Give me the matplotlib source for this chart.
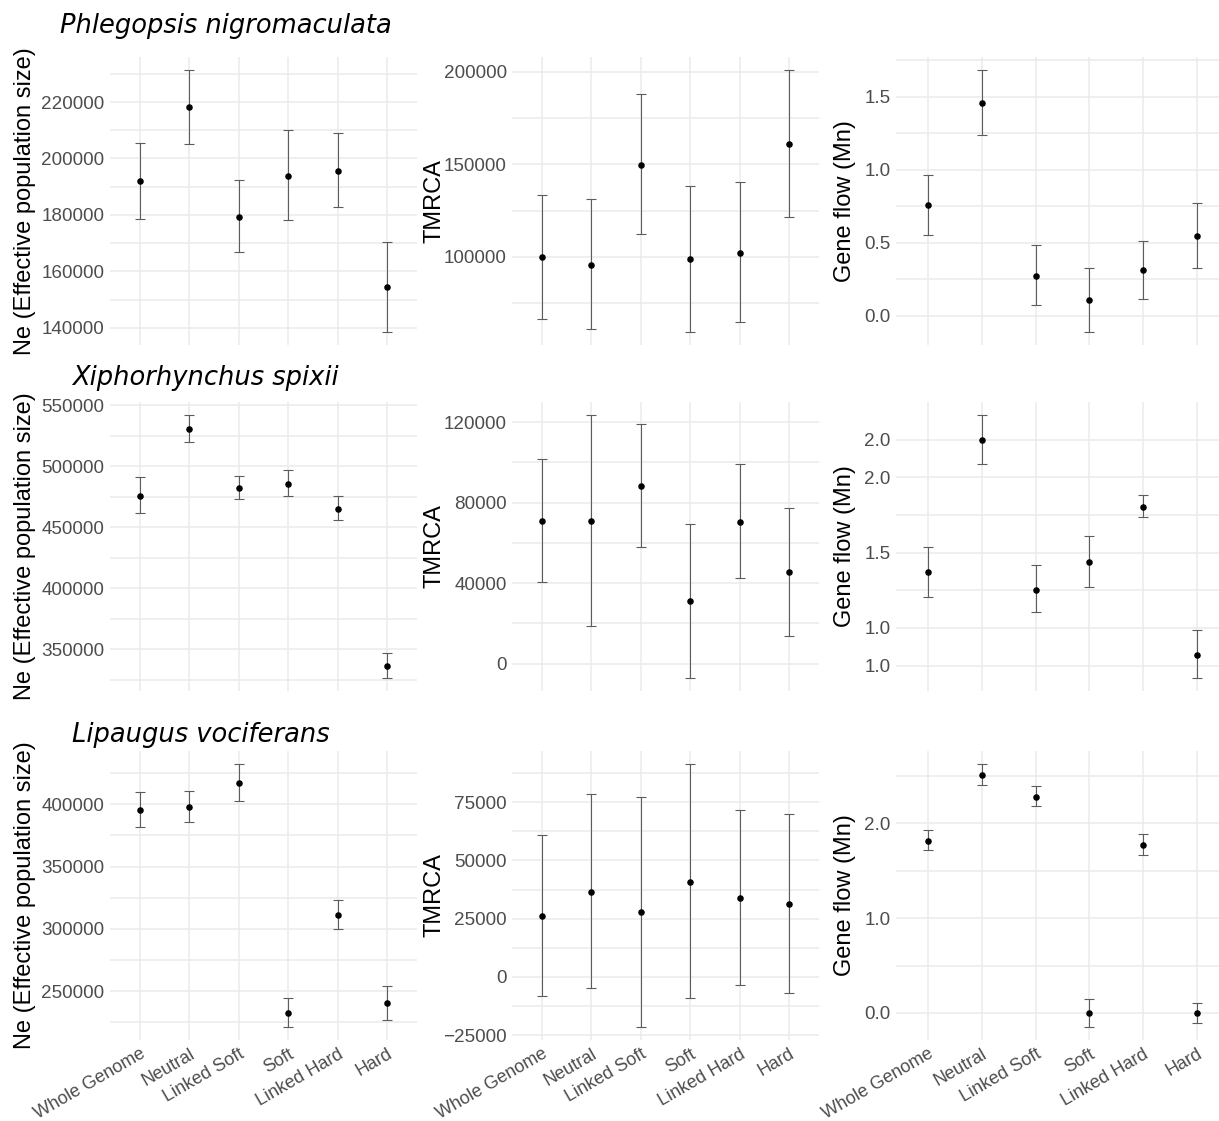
import matplotlib

matplotlib.use("Agg")
import matplotlib.pyplot as plt
import numpy as np
from matplotlib.transforms import ScaledTranslation

plt.rcParams["font.family"] = ["Liberation Sans", "DejaVu Sans"]

categories = ["Whole Genome", "Neutral", "Linked Soft", "Soft", "Linked Hard", "Hard"]
species = ["Phlegopsis nigromaculata", "Xiphorhynchus spixii", "Lipaugus vociferans"]
metric_labels = ["Ne (Effective population size)", "TMRCA", "Gene flow (Mn)"]

# Phlegopsis nigromaculata
ne_phl = [192000, 218200, 179400, 193900, 195600, 154400]
ne_phl_low = [178600, 205100, 166800, 178100, 182700, 138600]
ne_phl_high = [205600, 231300, 192400, 210100, 208900, 170400]
tmrca_phl = [99800, 95900, 149600, 98900, 102300, 161100]
tmrca_phl_low = [66700, 61300, 112200, 59500, 64900, 121700]
tmrca_phl_high = [133700, 131200, 187800, 138500, 140300, 200900]
gf_phl = [0.757, 1.459, 0.275, 0.109, 0.314, 0.548]
gf_phl_low = [0.552, 1.241, 0.075, -0.109, 0.116, 0.330]
gf_phl_high = [0.966, 1.682, 0.486, 0.330, 0.516, 0.773]

# Xiphorhynchus spixii
ne_xip = [475700, 530400, 482300, 485500, 465300, 336700]
ne_xip_low = [461300, 520200, 472700, 475700, 456100, 326600]
ne_xip_high = [491300, 541800, 492100, 496500, 475700, 347300]
tmrca_xip = [71000, 70900, 88300, 31000, 70400, 45300]
tmrca_xip_low = [40500, 18900, 58200, -7100, 42300, 13600]
tmrca_xip_high = [101700, 123500, 119200, 69400, 99300, 77300]
gf_xip = [1.369, 2.246, 1.254, 1.438, 1.803, 0.823]
gf_xip_low = [1.206, 2.086, 1.102, 1.270, 1.737, 0.668]
gf_xip_high = [1.540, 2.412, 1.416, 1.611, 1.881, 0.989]

# Lipaugus vociferans
ne_lip = [395700, 397900, 416800, 232600, 311500, 240400]
ne_lip_low = [381800, 385800, 402700, 221400, 300000, 227000]
ne_lip_high = [409900, 410200, 432100, 244400, 323500, 254300]
tmrca_lip = [26000, 36300, 27700, 40900, 33700, 31300]
tmrca_lip_low = [-8300, -4900, -21400, -9000, -3600, -6900]
tmrca_lip_high = [60900, 78300, 77400, 91300, 71600, 69900]
gf_lip = [1.820, 2.511, 2.285, 0.0, 1.768, 0.0]
gf_lip_low = [1.722, 2.405, 2.187, -0.148, 1.665, -0.109]
gf_lip_high = [1.930, 2.627, 2.394, 0.151, 1.884, 0.109]

# y breaks as drawn in the original (gene flow of X. spixii has odd rounded labels)
ne_phl_ticks = [140000, 160000, 180000, 200000, 220000]
tmrca_phl_ticks = [100000, 150000, 200000]
gf_phl_ticks = [0.0, 0.5, 1.0, 1.5]
ne_xip_ticks = [350000, 400000, 450000, 500000, 550000]
tmrca_xip_ticks = [0, 40000, 80000, 120000]
gf_xip_ticks = [0.75, 1.0, 1.5, 2.0, 2.25]
gf_xip_tick_labels = ["1.0", "1.0", "1.5", "2.0", "2.0"]
gf_xip_minor = [1.25, 1.75]
ne_lip_ticks = [250000, 300000, 350000, 400000]
tmrca_lip_ticks = [-25000, 0, 25000, 50000, 75000]
gf_lip_ticks = [0.0, 1.0, 2.0]

rows = [
    [(ne_phl, ne_phl_low, ne_phl_high, ne_phl_ticks),
     (tmrca_phl, tmrca_phl_low, tmrca_phl_high, tmrca_phl_ticks),
     (gf_phl, gf_phl_low, gf_phl_high, gf_phl_ticks)],
    [(ne_xip, ne_xip_low, ne_xip_high, ne_xip_ticks),
     (tmrca_xip, tmrca_xip_low, tmrca_xip_high, tmrca_xip_ticks),
     (gf_xip, gf_xip_low, gf_xip_high, gf_xip_ticks)],
    [(ne_lip, ne_lip_low, ne_lip_high, ne_lip_ticks),
     (tmrca_lip, tmrca_lip_low, tmrca_lip_high, tmrca_lip_ticks),
     (gf_lip, gf_lip_low, gf_lip_high, gf_lip_ticks)],
]

W, H = 1219, 1121
col_boxes = [(109.8, 307.0), (512.4, 306.2), (896.0, 333.0)]
row_boxes = [(57, 345), (402, 691), (751, 1040)]
label_x = [-0.276, -0.253, -0.153]
title_pos = [(60, 33), (72, 385), (72, 742)]

GRID = "#EBEBEB"
TEXT = "#4D4D4D"


def fmt(v, is_gf):
    s = f"{v:.1f}" if is_gf else f"{v:.0f}"
    return s.replace("-", "\u2212")


def minor_between(ticks):
    step = ticks[1] - ticks[0]
    ext = [ticks[0] - step] + list(ticks) + [ticks[-1] + step]
    return [(a + b) / 2 for a, b in zip(ext[:-1], ext[1:])]


fig = plt.figure(figsize=(W / 100, H / 100), dpi=100)
x = np.arange(len(categories))
label_shift = ScaledTranslation(6 / 100, 4 / 100, fig.dpi_scale_trans)

for r, row in enumerate(rows):
    top, bot = row_boxes[r]
    for c, (mean, low, high, ticks) in enumerate(row):
        left, width = col_boxes[c]
        ax = fig.add_axes([left / W, 1 - bot / H, width / W, (bot - top) / H])
        mean = np.asarray(mean)
        yerr = [mean - np.asarray(low), np.asarray(high) - mean]
        ax.errorbar(x, mean, yerr=yerr, fmt="none", ecolor="#5c5c5c",
                    elinewidth=0.8, capsize=3.3, capthick=0.8, zorder=3)
        ax.plot(x, mean, "o", color="black", ms=3.7, zorder=4)

        is_gf = c == 2
        ax.set_yticks(ticks)
        if r == 1 and c == 2:
            ax.set_yticklabels(gf_xip_tick_labels)
            ax.set_yticks(gf_xip_minor, minor=True)
        else:
            ax.set_yticklabels([fmt(t, is_gf) for t in ticks])
            ax.set_yticks(minor_between(ticks), minor=True)

        # ggplot-style 5% expansion around the error bars
        lo, hi = min(low), max(high)
        pad = 0.05 * (hi - lo)
        ax.set_ylim(lo - pad, hi + pad)
        ax.set_xlim(-0.6, len(categories) - 0.4)

        ax.set_xticks(x)
        if r == 2:
            ax.set_xticklabels(categories, rotation=30, ha="right",
                               rotation_mode="anchor", color=TEXT, fontsize=13)
            for lab in ax.get_xticklabels():
                lab.set_transform(lab.get_transform() + label_shift)
        else:
            ax.set_xticklabels([])

        ax.grid(axis="y", which="both", color=GRID, lw=1.1)
        ax.grid(axis="x", which="major", color=GRID, lw=1.1)
        ax.set_axisbelow(True)
        for sp in ax.spines.values():
            sp.set_visible(False)
        ax.tick_params(axis="y", which="both", length=0, pad=4,
                       labelsize=13.6, labelcolor=TEXT)
        ax.tick_params(axis="x", which="both", length=0, pad=4)

        ax.set_ylabel(metric_labels[c], fontsize=17, color="black")
        ax.yaxis.set_label_coords(label_x[c], 0.5)
        ax.yaxis.label.set_va("center")

    tx, ty = title_pos[r]
    fig.text(tx / W, 1 - ty / H, species[r], fontsize=18.5, style="italic",
             family="DejaVu Sans", va="baseline", ha="left")

fig.savefig("out.png", dpi=100)
